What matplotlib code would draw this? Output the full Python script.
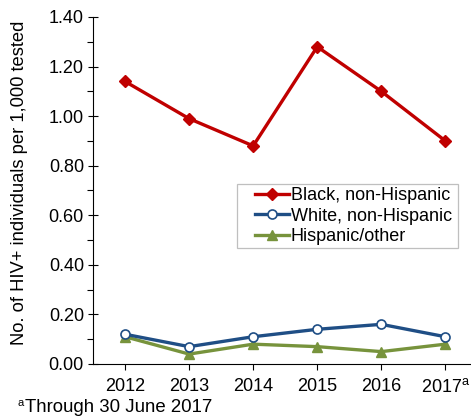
import matplotlib
matplotlib.use("Agg")
import matplotlib.pyplot as plt
from matplotlib.ticker import MultipleLocator
from matplotlib.patches import Rectangle

plt.rcParams['font.family'] = ['Liberation Sans', 'DejaVu Sans']
plt.rcParams['mathtext.fontset'] = 'custom'
plt.rcParams['mathtext.rm'] = 'Liberation Sans'

years = ["2012", "2013", "2014", "2015", "2016", "2017$^{\\mathrm{a}}$"]
black = [1.14, 0.99, 0.88, 1.28, 1.10, 0.90]
white = [0.12, 0.07, 0.11, 0.14, 0.16, 0.11]
hispanic = [0.11, 0.04, 0.08, 0.07, 0.05, 0.08]
labels = ["Black, non-Hispanic", "White, non-Hispanic", "Hispanic/other"]

W, H = 471, 416
fig = plt.figure(figsize=(W/100, H/100), dpi=100)
ax = fig.add_axes([93/W, 1-364/H, 1-93/W, (364-17)/H])
x = list(range(len(years)))

ax.plot(x, black, color='#C00000', lw=2.4, marker='D', ms=6.5, mfc='#C00000', mec='#C00000', label=labels[0], clip_on=False, zorder=3)
ax.plot(x, white, color='#1F4E85', lw=2.4, marker='o', ms=6.5, mfc='white', mec='#1F4E85', mew=1.2, label=labels[1], clip_on=False, zorder=4)
ax.plot(x, hispanic, color='#77933C', lw=2.4, marker='^', ms=7, mfc='#77933C', mec='#77933C', label=labels[2], clip_on=False, zorder=3)

ax.set_xlim(-0.5, 5.4)
ax.set_ylim(0, 1.4)
ax.yaxis.set_major_locator(MultipleLocator(0.2))
ax.yaxis.set_minor_locator(MultipleLocator(0.1))
ax.yaxis.set_major_formatter(matplotlib.ticker.FormatStrFormatter('%.2f'))
ax.set_xticks(x)
ax.set_xticklabels(years)
ax.spines['top'].set_visible(False)
ax.spines['right'].set_visible(False)
ax.tick_params(axis='y', which='major', direction='inout', length=7, width=0.8, labelsize=13, pad=3)
ax.tick_params(axis='y', which='minor', direction='out', length=4, width=0.8)
ax.tick_params(axis='x', which='major', direction='out', length=4, width=0.8, labelsize=13, pad=6)
ax.set_ylabel("No. of HIV+ individuals per 1,000 tested", fontsize=13.2)
ax.yaxis.set_label_coords(-0.172, 0.523)

leg = ax.legend(loc='upper left', bbox_to_anchor=(255/W, 1-187/H), bbox_transform=fig.transFigure,
                fontsize=13, frameon=False,
                handlelength=1.9, handletextpad=0.08, borderpad=0, labelspacing=0.2,
                borderaxespad=0)
ax.add_patch(Rectangle((237/W, 1-248/H), 221/W, 64/H, transform=fig.transFigure,
                       fill=False, edgecolor='#BFBFBF', lw=0.9, clip_on=False, zorder=5))

fig.text(18/W, 1-406.5/H, "a", fontsize=8, va='baseline', ha='left')
fig.text(25/W, 1-412/H, "Through 30 June 2017", fontsize=13.4, va='baseline', ha='left')

fig.savefig("out.png", dpi=100)
